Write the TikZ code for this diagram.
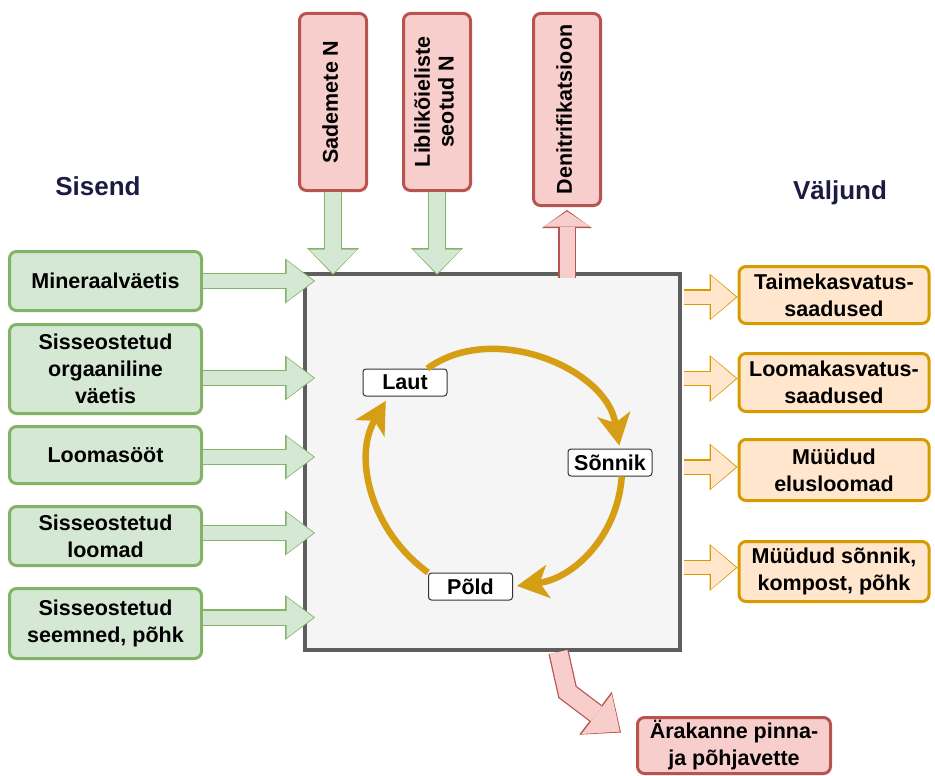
\documentclass[tikz,border=0pt]{standalone}
\usepackage{fontspec}
\setmainfont{Liberation Sans}
\usepackage{graphicx}
\usetikzlibrary{arrows.meta, calc}

\definecolor{gfill}{HTML}{D5E8D4}
\definecolor{gline}{HTML}{82B366}
\definecolor{rfill}{HTML}{F8CECC}
\definecolor{rline}{HTML}{B85450}
\definecolor{ofill}{HTML}{FFE6CC}
\definecolor{oline}{HTML}{D79B00}
\definecolor{farmfill}{HTML}{F5F5F5}
\definecolor{farmline}{HTML}{5E5E5E}
\definecolor{cyclecol}{RGB}{214,158,20}
\definecolor{headcol}{RGB}{28,28,66}

\newcommand{\bxfont}{\fontsize{21.5}{27}\selectfont\bfseries}
\newcommand{\vtext}[1]{\rotatebox{90}{\renewcommand{\arraystretch}{0.88}\begin{tabular}{@{}c@{}}#1\end{tabular}}}

\begin{document}
\begin{tikzpicture}[x=1pt, y=-1pt]
	\tikzset{box/.style = {rounded corners=7pt, line width=3pt, align=center, inner sep=0pt, font=\bxfont}}
	\tikzset{inbox/.style = {box, draw=gline, fill=gfill, minimum width=192pt}}
	\tikzset{outbox/.style = {box, draw=oline, fill=ofill, minimum width=190pt}}
	\tikzset{nbox/.style = {box, draw=rline, fill=rfill}}
	\tikzset{stage/.style = {draw=black!80, fill=white, rounded corners=3pt, line width=1pt, inner sep=0pt, minimum width=84pt, minimum height=27pt, font=\bxfont}}
	\tikzset{heading/.style = {font=\fontsize{26}{30}\selectfont\bfseries, text=headcol}}
	\tikzset{cyc/.style = {draw=cyclecol, line width=6.5pt, -{Stealth[length=32pt, width=34pt, inset=9pt, line width=0pt]}}}
	\tikzset{inarr/.style = {draw=gfill, line width=14pt, -{Triangle[length=27pt, width=41pt, line width=0pt]}, shorten >=1.5pt,
		preaction={draw=gline, line width=16.5pt, -{Triangle[length=30pt, width=45pt, line width=0pt]}, shorten >=0pt}}}
	\tikzset{toparr/.style = {draw=gfill, line width=16pt, -{Triangle[length=24pt, width=48pt, line width=0pt]}, shorten >=1.5pt,
		preaction={draw=gline, line width=18.5pt, -{Triangle[length=27pt, width=52pt, line width=0pt]}, shorten >=0pt}}}
	\tikzset{outarr/.style = {draw=ofill, line width=13pt, -{Triangle[length=25pt, width=43pt, line width=0pt]}, shorten >=1.5pt,
		preaction={draw=oline, line width=15.5pt, -{Triangle[length=28pt, width=47pt, line width=0pt]}, shorten >=0pt}}}
	\tikzset{uparr/.style = {draw=rfill, line width=15pt, -{Triangle[length=15pt, width=46pt, line width=0pt]}, shorten >=1.5pt,
		preaction={draw=rline, line width=17.5pt, -{Triangle[length=18pt, width=50pt, line width=0pt]}, shorten >=0pt}}}
	\tikzset{lossarr/.style = {draw=rfill, line width=18pt, -{Triangle[length=29pt, width=50pt, line width=0pt]}, shorten >=1.5pt,
		preaction={draw=rline, line width=20.5pt, -{Triangle[length=32pt, width=54pt, line width=0pt]}, shorten >=0pt}}}

	\useasboundingbox (0,0) rectangle (935,776);

	\node[heading] (sisend) at (98,186) {Sisend};
	\node[heading] (valjund) at (840,193) {Väljund};

	\node[draw=farmline, fill=farmfill, line width=4pt, minimum width=375pt, minimum height=376pt] (farm) at (492.5,462) {};

	% sisend
	\node[inbox, minimum height=59pt] (mineraal) at (105.5,281) {Mineraalväetis};
	\node[inbox, minimum height=89pt] (orgaan) at (105.5,369) {Sisseostetud\\orgaaniline\\väetis};
	\node[inbox, minimum height=57pt] (sood) at (105.5,455) {Loomasööt};
	\node[inbox, minimum height=59pt] (loomad) at (105.5,536) {Sisseostetud\\loomad};
	\node[inbox, minimum height=70pt] (seemned) at (105.5,623.5) {Sisseostetud\\seemned, põhk};

	\node[nbox, minimum width=67pt, minimum height=177pt] (sademed) at (333,102) {\vtext{Sademete N}};
	\node[nbox, minimum width=67pt, minimum height=177pt] (liblik) at (437,102) {\vtext{Liblikõieliste\\seotud N}};
	\node[nbox, minimum width=67pt, minimum height=192pt] (denitr) at (567,109.5) {\vtext{Denitrifikatsioon}};

	% väljund
	\node[outbox, minimum height=57pt] (taime) at (834,295) {Taimekasvatus-\\saadused};
	\node[outbox, minimum height=58pt] (looma) at (834,382.5) {Loomakasvatus-\\saadused};
	\node[outbox, minimum height=61pt] (elus) at (834,470) {Müüdud\\elusloomad};
	\node[outbox, minimum height=60pt] (myyk) at (834,571.5) {Müüdud sõnnik,\\kompost, põhk};

	\node[nbox, minimum width=193pt, minimum height=56pt] (arak) at (734,745.5) {Ärakanne pinna-\\ja põhjavette};

	% ring inside the farm
	\node[stage] (laut) at (405,382.5) {Laut};
	\node[stage] (sonnik) at (610,462.5) {Sõnnik};
	\node[stage] (pold) at (470.5,586.5) {Põld};

	\draw[cyc, shorten >=3pt] (laut.32) to[out=36, in=100] (sonnik.55);
	\draw[cyc, shorten >=4pt] (sonnik.-50) to[out=-94, in=8] (pold.east);
	\draw[cyc, shorten >=5pt] (pold.north west) to[out=144, in=240] (laut.-140);

	\draw[inarr] (mineraal.east) -- ($(farm.west |- mineraal.east)+(12,0)$);
	\draw[inarr] ($(orgaan.east)+(0,9)$) -- ($(farm.west |- orgaan.east)+(12,9)$);
	\draw[inarr] ($(sood.east)+(0,2)$) -- ($(farm.west |- sood.east)+(12,2)$);
	\draw[inarr] ($(loomad.east)+(0,-3)$) -- ($(farm.west |- loomad.east)+(12,-3)$);
	\draw[inarr] ($(seemned.east)+(0,-6)$) -- ($(farm.west |- seemned.east)+(12,-6)$);

	\draw[toparr] (sademed.south) -- ($(sademed.south |- farm.north)+(0,3)$);
	\draw[toparr] (liblik.south) -- ($(liblik.south |- farm.north)+(0,3)$);
	\draw[uparr] ($(denitr.south |- farm.north)+(0,6)$) -- ($(denitr.south)+(0,3)$);

	\draw[outarr] ($(farm.east |- taime.west)+(2,2)$) -- ($(taime.west)+(0,2)$);
	\draw[outarr] ($(farm.east |- looma.west)+(2,-4)$) -- ($(looma.west)+(0,-4)$);
	\draw[outarr] ($(farm.east |- elus.west)+(2,-3)$) -- ($(elus.west)+(0,-3)$);
	\draw[outarr] ($(farm.east |- myyk.west)+(2,-4)$) -- ($(myyk.west)+(0,-4)$);

	\draw[lossarr] ($(farm.south)+(66,0)$) -- ($(farm.south)+(75,40)$) -- ($(arak.west)+(-15,-13)$);
\end{tikzpicture}
\end{document}
